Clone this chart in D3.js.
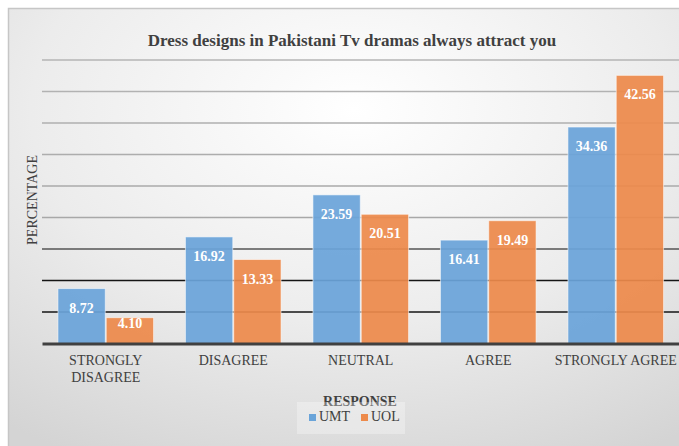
<!DOCTYPE html>
<html><head><meta charset="utf-8">
<script src="https://cdn.jsdelivr.net/npm/d3@7/dist/d3.min.js"></script>
<style>html,body{margin:0;padding:0;background:#fff;}svg{display:block;}</style>
</head><body><svg id="c" width="679" height="446"></svg>
<script>
const categories = ["STRONGLY DISAGREE", "DISAGREE", "NEUTRAL", "AGREE", "STRONGLY AGREE"];
const categoryLines = [["STRONGLY", "DISAGREE"], ["DISAGREE"], ["NEUTRAL"], ["AGREE"], ["STRONGLY AGREE"]];
const seriesNames = ["UMT", "UOL"];
const umtValues = [8.72, 16.92, 23.59, 16.41, 34.36];
const uolValues = [4.10, 13.33, 20.51, 19.49, 42.56];
const gridValues = [5, 10, 15, 20, 25, 30, 35, 40, 45];
const colors = ["#6aa4d9", "#ed8a4b"];
const title = "Dress designs in Pakistani Tv dramas always attract you";
const font = "'Liberation Serif', 'Times New Roman', serif";

const svg = d3.select("#c");
const defs = svg.append("defs");
const rg = defs.append("radialGradient").attr("id", "bg").attr("cx", "50%").attr("cy", "22%").attr("r", "85%");
rg.append("stop").attr("offset", "0%").attr("stop-color", "#ffffff");
rg.append("stop").attr("offset", "55%").attr("stop-color", "#ececec");
rg.append("stop").attr("offset", "100%").attr("stop-color", "#d4d4d4");

svg.append("rect").attr("x", 8.5).attr("y", 8.5).attr("width", 690).attr("height", 460)
  .attr("fill", "url(#bg)").attr("stroke", "#c6c6c6").attr("stroke-width", 1.5);

const m = {left: 42, right: 679.5, top: 60, bottom: 343.5};
const x0 = d3.scaleBand().domain(categories).range([m.left, m.right]).paddingInner(0.25).paddingOuter(0.125);
const x1 = d3.scaleBand().domain(seriesNames).range([0, x0.bandwidth()]).paddingInner(0.02);
const y = d3.scaleLinear().domain([0, 45]).range([m.bottom, m.top]);

const gridColor = d3.scaleLinear().domain([5, 10, 15, 20, 45]).range(["#151515", "#151515", "#555555", "#a8a8a8", "#b4b4b4"]);
svg.append("g").selectAll("line").data(gridValues).join("line")
  .attr("x1", m.left).attr("x2", m.right)
  .attr("y1", d => y(d)).attr("y2", d => y(d))
  .attr("stroke", d => gridColor(d)).attr("stroke-width", 1.5);

const data = categories.map((c, i) => ({cat: c, vals: [umtValues[i], uolValues[i]]}));
const g = svg.append("g").selectAll("g").data(data).join("g")
  .attr("transform", d => `translate(${x0(d.cat)},0)`);
g.selectAll("rect").data(d => d.vals.map((v, j) => ({s: seriesNames[j], v, j}))).join("rect")
  .attr("x", d => x1(d.s)).attr("width", x1.bandwidth())
  .attr("y", d => y(d.v)).attr("height", d => y(0) - y(d.v))
  .attr("fill", d => colors[d.j]).attr("fill-opacity", 0.93)
  .attr("stroke", "rgba(255,255,255,0.55)").attr("stroke-width", 1);
g.selectAll("text").data(d => d.vals.map((v, j) => ({s: seriesNames[j], v, j}))).join("text")
  .attr("x", d => x1(d.s) + x1.bandwidth() / 2).attr("y", d => Math.min(y(d.v) + 24, y(0) - 15.5))
  .attr("text-anchor", "middle").attr("fill", "#ffffff").attr("font-family", font)
  .attr("font-weight", "bold").attr("font-size", "14px").text(d => d.v.toFixed(2));

// baseline
const xAxis = d3.axisBottom(x0).tickSize(0).tickFormat("");
const ax = svg.append("g").attr("transform", `translate(0,${m.bottom})`).call(xAxis);
ax.select(".domain").attr("stroke", "#404040").attr("stroke-width", 3);

// category labels
const cl = svg.append("g").selectAll("text").data(categories).join("text")
  .attr("x", d => x0(d) + x0.bandwidth() / 2).attr("y", 365)
  .attr("text-anchor", "middle").attr("fill", "#404040").attr("font-family", font).attr("font-size", "14px");
cl.each(function(d, i) {
  const t = d3.select(this);
  categoryLines[i].forEach((line, k) => {
    t.append("tspan").attr("x", x0(d) + x0.bandwidth() / 2).attr("dy", k === 0 ? 0 : 17).text(line);
  });
});

// title
svg.append("text").attr("x", 352).attr("y", 46).attr("text-anchor", "middle")
  .attr("font-family", font).attr("font-weight", "bold").attr("font-size", "17px").attr("fill", "#404040").text(title);

// y axis title
svg.append("text").attr("transform", "translate(37,200) rotate(-90)").attr("text-anchor", "middle")
  .attr("font-family", font).attr("font-size", "14px").attr("fill", "#404040").text("PERCENTAGE");

// x axis title
svg.append("text").attr("x", 360).attr("y", 406).attr("text-anchor", "middle")
  .attr("font-family", font).attr("font-weight", "bold").attr("font-size", "14px").attr("fill", "#404040").text("RESPONSE");

// legend
svg.append("rect").attr("x", 297).attr("y", 402).attr("width", 108).attr("height", 32).attr("fill", "rgba(255,255,255,0.3)");
const lg = svg.append("g").selectAll("g").data(seriesNames).join("g")
  .attr("transform", (d, i) => `translate(${309 + i * 52},0)`);
lg.append("rect").attr("x", 0).attr("y", 414).attr("width", 7).attr("height", 7).attr("fill", (d, i) => colors[i]);
lg.append("text").attr("x", 10).attr("y", 421).attr("font-family", font).attr("font-size", "14px").attr("fill", "#404040").text(d => d);
</script></body></html>
